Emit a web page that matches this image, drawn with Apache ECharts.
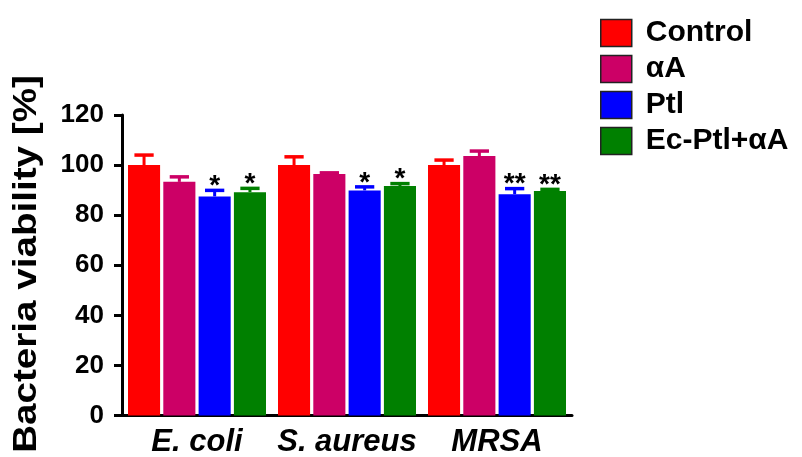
<!DOCTYPE html>
<html>
<head>
<meta charset="utf-8">
<script src="https://cdn.jsdelivr.net/npm/echarts@6/dist/echarts.min.js"></script>
<style>html,body{margin:0;padding:0;background:#fff;}#main{width:802px;height:457px;}</style>
</head>
<body>
<div id="main"></div>
<script>
// ---- data ----
const categories = ['E. coli', 'S. aureus', 'MRSA'];
const seriesNames = ['Control', 'αA', 'Ptl', 'Ec-Ptl+αA'];
const controlVals = [100, 100, 100];
const controlErrs = [4, 3.3, 2];
const controlStars = ['', '', ''];
const alphaAVals = [93.3, 96.4, 103.6];
const alphaAErrs = [2, 0.5, 2];
const alphaAStars = ['', '', ''];
const ptlVals = [87.5, 89.9, 88.4];
const ptlErrs = [2.4, 1.4, 2.2];
const ptlStars = ['*', '*', '**'];
const ecPtlAVals = [89.2, 91.6, 89.7];
const ecPtlAErrs = [1.5, 1, 0.6];
const ecPtlAStars = ['*', '*', '**'];
const yTicks = { min: 0, max: 120, interval: 20 };
const axisTitle = 'Bacteria viability [%]';

// ---- styling ----
const colors = ['#ff0000', '#cc0066', '#0000ff', '#008000'];
const FONT = '"Liberation Sans", Arial, Helvetica, sans-serif';
const CAT_GAP = 0.08, BAR_GAP = 0.1;
const groups = [
  { vals: controlVals, errs: controlErrs, stars: controlStars },
  { vals: alphaAVals, errs: alphaAErrs, stars: alphaAStars },
  { vals: ptlVals, errs: ptlErrs, stars: ptlStars },
  { vals: ecPtlAVals, errs: ecPtlAErrs, stars: ecPtlAStars }
];
const N = groups.length;

function makeRender(i, g, color) {
  return function (params, api) {
    const c = api.value(0), v = api.value(1);
    const e = g.errs[params.dataIndex];
    const center = api.coord([c, 0])[0];
    const band = api.size([1, 0])[0];
    const total = band * (1 - CAT_GAP);
    const w = total / (N + (N - 1) * BAR_GAP);
    const x = center - total / 2 + i * w * (1 + BAR_GAP) + w / 2;
    const yTop = api.coord([c, v])[1];
    const yErr = api.coord([c, v + e])[1];
    const capW = w * 0.6;
    const children = [
      { type: 'line', shape: { x1: x, y1: yTop, x2: x, y2: yErr }, style: { stroke: color, lineWidth: 3 } },
      { type: 'line', shape: { x1: x - capW / 2, y1: yErr, x2: x + capW / 2, y2: yErr }, style: { stroke: color, lineWidth: 3.5 } }
    ];
    const s = g.stars[params.dataIndex];
    if (s) {
      children.push({ type: 'text', x: x, y: yErr - 4,
        style: { text: s, font: 'bold 28px ' + FONT, align: 'center', verticalAlign: 'middle', fill: '#000' } });
    }
    return { type: 'group', children: children };
  };
}

const series = [];
groups.forEach((g, i) => {
  series.push({
    name: seriesNames[i], type: 'bar', data: g.vals,
    barGap: (BAR_GAP * 100) + '%', barCategoryGap: (CAT_GAP * 100) + '%',
    itemStyle: { color: colors[i] }, z: 2
  });
});
groups.forEach((g, i) => {
  series.push({
    name: 'err' + i, type: 'custom', z: 3,
    data: categories.map((_, k) => [k, g.vals[k]]),
    renderItem: makeRender(i, g, colors[i])
  });
});

const chart = echarts.init(document.getElementById('main'), null, { renderer: 'canvas' });
chart.setOption({
  animation: false,
  backgroundColor: '#fff',
  color: colors,
  grid: { left: 122, right: 230, top: 115, bottom: 41.5, containLabel: false, outerBoundsMode: 'none' },
  legend: {
    data: seriesNames,
    orient: 'vertical', left: 595, top: 13,
    itemWidth: 31, itemHeight: 27, itemGap: 6,
    icon: 'rect',
    itemStyle: { borderColor: '#222', borderWidth: 1.5 },
    textStyle: { fontFamily: FONT, fontWeight: 'bold', fontSize: 30, color: '#000', padding: [0, 0, 0, 9] }
  },
  xAxis: {
    type: 'category', data: categories,
    axisLine: { lineStyle: { color: '#000', width: 3 } },
    axisTick: { alignWithLabel: true, length: 8, lineStyle: { color: '#000', width: 3 } },
    axisLabel: { interval: 0, fontFamily: FONT, fontWeight: 'bold', fontStyle: 'italic', fontSize: 31, color: '#000', margin: 11 }
  },
  yAxis: {
    type: 'value', min: yTicks.min, max: yTicks.max, interval: yTicks.interval,
    axisLine: { show: true, lineStyle: { color: '#000', width: 3 } },
    axisTick: { show: true, length: 8, lineStyle: { color: '#000', width: 3 } },
    axisLabel: { fontFamily: FONT, fontWeight: 'bold', fontSize: 26, color: '#000', margin: 18 },
    splitLine: { show: false }
  },
  graphic: [{
    type: 'text', x: 27, y: 264, rotation: Math.PI / 2, scaleX: 1.17,
    style: { text: axisTitle, font: 'bold 33px ' + FONT, align: 'center', verticalAlign: 'middle', fill: '#000' }
  }],
  series: series
});
</script>
</body>
</html>
